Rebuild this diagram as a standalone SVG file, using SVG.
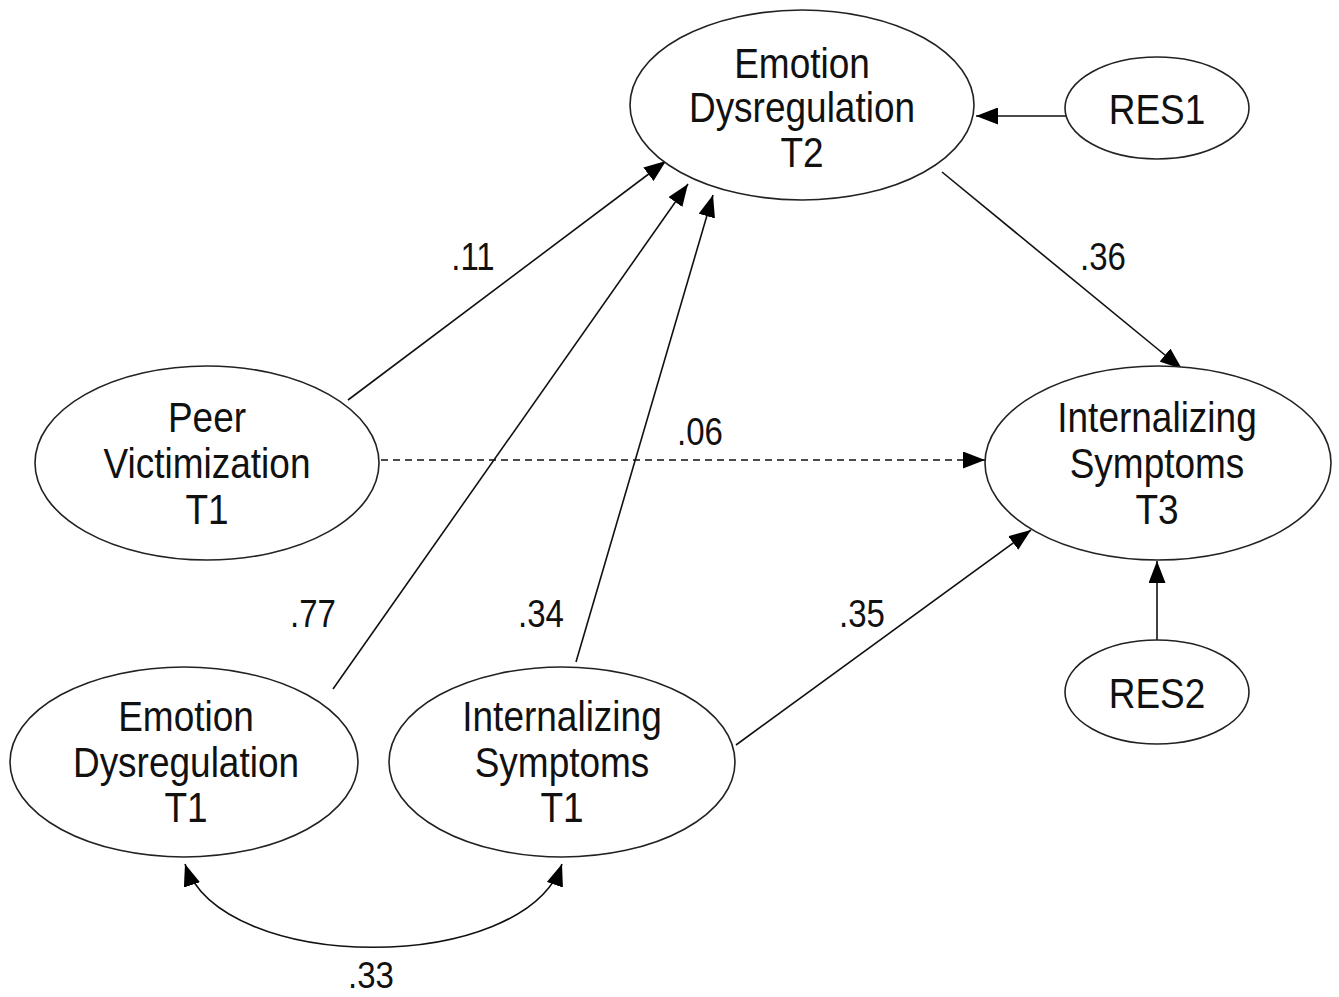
<svg xmlns="http://www.w3.org/2000/svg" width="1339" height="997" viewBox="0 0 1339 997">
<defs>
<style>
.n{fill:#fff;stroke:#222;stroke-width:1.6}
.t{font-family:"Liberation Sans",Arial,sans-serif;font-size:37px;fill:#111;text-anchor:middle}
.l{font-family:"Liberation Sans",Arial,sans-serif;font-size:33px;fill:#111;text-anchor:middle}
.c{fill:none;stroke:#111;stroke-width:1.6}
.d{stroke-dasharray:7 5}
</style>
<marker id="ah" viewBox="0 0 22 17" refX="22" refY="8.5" markerWidth="22" markerHeight="17" markerUnits="userSpaceOnUse" orient="auto-start-reverse">
<path d="M0,0 L22,8.5 L0,17 Z" fill="#000"/>
</marker>
</defs>
<rect width="1339" height="997" fill="#fff"/>
<g id="connectors">
<line class="c" x1="348" y1="400" x2="666" y2="161" marker-end="url(#ah)"/>
<line class="c" x1="333" y1="689" x2="688" y2="184" marker-end="url(#ah)"/>
<line class="c" x1="576" y1="662" x2="713" y2="195" marker-end="url(#ah)"/>
<line class="c" x1="942" y1="172" x2="1182" y2="369" marker-end="url(#ah)"/>
<line class="c d" x1="381" y1="460" x2="985" y2="460" marker-end="url(#ah)"/>
<line class="c" x1="736" y1="745" x2="1031" y2="530" marker-end="url(#ah)"/>
<line class="c" x1="1066" y1="116" x2="976" y2="116" marker-end="url(#ah)"/>
<line class="c" x1="1157" y1="640" x2="1157" y2="561" marker-end="url(#ah)"/>
<path class="c" d="M185,864 C222,975 524,975 562,864" marker-start="url(#ah)" marker-end="url(#ah)"/>
</g>
<g id="ed_t2">
<ellipse class="n" cx="802" cy="105" rx="172" ry="95"/>
<text class="t" transform="translate(802 78) scale(1 1.15)">Emotion</text>
<text class="t" transform="translate(802 122) scale(1 1.15)">Dysregulation</text>
<text class="t" transform="translate(802 167) scale(1 1.15)">T2</text>
</g>
<g id="res1">
<ellipse class="n" cx="1157" cy="108" rx="92" ry="51"/>
<text class="t" transform="translate(1157 124) scale(1 1.15)">RES1</text>
</g>
<g id="pv_t1">
<ellipse class="n" cx="207" cy="463" rx="172" ry="97"/>
<text class="t" transform="translate(207 432) scale(1 1.15)">Peer</text>
<text class="t" transform="translate(207 478) scale(1 1.15)">Victimization</text>
<text class="t" transform="translate(207 524) scale(1 1.15)">T1</text>
</g>
<g id="is_t3">
<ellipse class="n" cx="1158" cy="463" rx="173" ry="97"/>
<text class="t" transform="translate(1157 432) scale(1 1.15)">Internalizing</text>
<text class="t" transform="translate(1157 478) scale(1 1.15)">Symptoms</text>
<text class="t" transform="translate(1157 524) scale(1 1.15)">T3</text>
</g>
<g id="res2">
<ellipse class="n" cx="1157" cy="692" rx="92" ry="52"/>
<text class="t" transform="translate(1157 708) scale(1 1.15)">RES2</text>
</g>
<g id="ed_t1">
<ellipse class="n" cx="184" cy="762" rx="174" ry="95"/>
<text class="t" transform="translate(186 731) scale(1 1.15)">Emotion</text>
<text class="t" transform="translate(186 777) scale(1 1.15)">Dysregulation</text>
<text class="t" transform="translate(186 822) scale(1 1.15)">T1</text>
</g>
<g id="is_t1">
<ellipse class="n" cx="562" cy="762" rx="173" ry="95"/>
<text class="t" transform="translate(562 731) scale(1 1.15)">Internalizing</text>
<text class="t" transform="translate(562 777) scale(1 1.15)">Symptoms</text>
<text class="t" transform="translate(562 822) scale(1 1.15)">T1</text>
</g>
<g id="labels">
<text class="l" transform="translate(473 270) scale(1 1.15)">.11</text>
<text class="l" transform="translate(1103 270) scale(1 1.15)">.36</text>
<text class="l" transform="translate(700 445) scale(1 1.15)">.06</text>
<text class="l" transform="translate(313 627) scale(1 1.15)">.77</text>
<text class="l" transform="translate(541 627) scale(1 1.15)">.34</text>
<text class="l" transform="translate(862 627) scale(1 1.15)">.35</text>
<text class="l" transform="translate(371 988) scale(1 1.1)">.33</text>
</g>
</svg>
